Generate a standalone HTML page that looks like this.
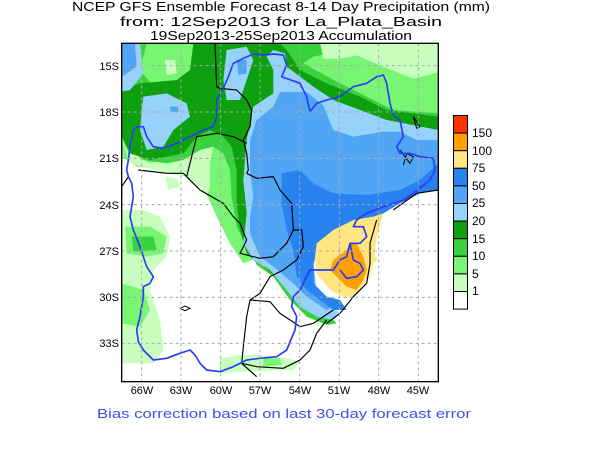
<!DOCTYPE html>
<html><head><meta charset="utf-8"><style>html,body{margin:0;padding:0;background:#fff}svg{display:block}</style></head><body>
<svg width="600" height="450" viewBox="0 0 600 450" xmlns="http://www.w3.org/2000/svg" font-family="Liberation Sans, sans-serif">
<rect width="600" height="450" fill="#fff"/>
<g font-size="13" fill="#000" text-anchor="middle">
<text x="281" y="11" textLength="418" lengthAdjust="spacingAndGlyphs">NCEP GFS Ensemble Forecast 8-14 Day Precipitation (mm)</text>
<text x="281" y="26" textLength="322" lengthAdjust="spacingAndGlyphs">from: 12Sep2013   for La_Plata_Basin</text>
<text x="281" y="40" textLength="262" lengthAdjust="spacingAndGlyphs">19Sep2013-25Sep2013 Accumulation</text>
</g>
<defs><clipPath id="c"><rect x="65" y="40" width="950" height="1015"/></clipPath></defs>
<g transform="translate(100,30) scale(0.33333)">
<g clip-path="url(#c)">
<rect x="0" y="0" width="1100" height="1100" fill="#fff"/>
<polygon fill="#78f573" points="65,40 1015,40 1015,480 430,700 390,640 350,560 310,470 280,440 200,420 110,410 65,380"/>
<polygon fill="#c8ffbe" points="65,330 90,400 200,430 260,440 300,470 320,500 330,470 330,400 340,350 300,340 250,370 150,400 80,360"/>
<polygon fill="#c8ffbe" points="65,540 130,540 180,560 210,620 200,680 160,720 150,780 180,870 190,960 160,1000 110,1000 65,1000"/>
<polygon fill="#78f573" points="75,590 150,590 200,620 190,670 140,680 80,670"/>
<polygon fill="#37d23c" points="95,620 160,620 170,660 100,665"/>
<polygon fill="#78f573" points="65,760 130,780 150,840 120,890 65,880"/>
<polygon fill="#c8ffbe" points="360,985 420,975 480,975 560,985 600,995 580,1020 430,1025 360,1030"/>
<polygon fill="#78f573" points="490,985 540,985 545,1005 490,1010"/>
<polygon fill="#c8ffbe" points="195,440 230,445 240,470 205,480"/>
<polygon fill="#37d23c" points="65,40 700,40 690,70 640,80 610,100 720,160 800,200 880,240 1015,250 1015,320 900,320 700,300 470,690 440,650 410,590 395,500 390,420 370,370 340,350 300,360 250,390 200,400 130,390 80,340 65,300"/>
<polygon fill="#78f573" points="140,40 290,40 300,110 250,160 160,170 120,120"/>
<polygon fill="#c8ffbe" points="195,90 225,90 230,130 200,135"/>
<polygon fill="#78f573" points="670,36 1020,36 1020,226 870,186 770,136 680,96"/>
<polygon fill="#c8ffbe" points="660,36 1020,36 1020,126 940,146 840,106 770,76 720,86 670,86"/>
<polygon fill="#0fa00f" points="65,180 120,160 230,150 270,120 280,40 540,40 560,60 600,120 680,160 780,200 860,240 1015,260 1015,310 860,290 700,220 560,200 500,210 450,300 445,400 445,500 440,560 465,640 490,690 470,700 440,670 420,600 410,520 410,420 395,350 370,320 330,300 290,320 250,370 150,390 90,370 65,320"/>
<polygon fill="#37d23c" points="460,680 540,720 600,800 690,860 710,880 680,885 620,860 570,810 520,740 470,705"/>
<polygon fill="#0fa00f" points="470,690 550,730 610,800 690,850 700,865 660,860 600,820 550,760"/>
<polygon fill="#96d2fa" points="65,40 120,40 130,130 90,180 65,185"/>
<polygon fill="#50a5f5" points="65,40 105,40 110,110 65,140"/>
<polygon fill="#96d2fa" points="130,200 200,190 260,220 270,260 220,300 190,350 140,360 120,300 125,240"/>
<polygon fill="#50a5f5" points="210,230 235,230 235,245 212,245"/>
<polygon fill="#96d2fa" points="380,60 440,50 460,90 440,150 420,210 380,210 370,150"/>
<polygon fill="#50a5f5" points="410,90 440,90 440,130 415,135"/>
<polygon fill="#96d2fa" points="440,330 460,230 520,190 520,120 500,80 520,60 555,70 560,110 600,140 640,170 700,210 780,240 860,270 1015,300 1015,480 870,540 820,590 760,620 700,640 650,660 640,720 650,800 720,850 700,870 650,860 600,830 560,780 510,720 460,690 430,640 440,550 430,450"/>
<polygon fill="#50a5f5" points="450,330 470,270 520,230 540,186 620,186 670,226 700,300 760,320 850,305 900,305 950,330 1015,330 1015,470 870,530 820,580 760,590 700,620 650,640 640,700 650,790 700,830 680,840 620,800 580,760 520,710 480,680 450,610 450,560 460,500 450,420"/>
<polygon fill="#2882f0" points="545,430 600,420 640,460 700,490 800,495 900,480 960,450 1015,400 1015,480 870,540 830,570 760,580 700,620 660,640 640,700 640,760 680,800 720,810 740,840 700,840 660,810 620,780 590,740 580,660 560,600 545,520"/>
<polygon fill="#fff" points="850,550 900,520 960,490 1015,480 1015,1055 700,1055 720,880 750,830 780,800 810,740 830,690 830,600"/>
<polygon fill="#ffe680" points="650,640 700,600 760,570 820,560 850,550 840,590 830,620 820,700 810,740 760,800 730,800 690,780 650,730 645,680"/>
<polygon fill="#ffe680" points="815,680 830,680 830,695 815,695"/>
<polygon fill="#ffa000" points="700,690 740,660 750,640 770,640 790,680 800,720 790,750 770,780 740,770 710,740 690,720"/>
<polyline fill="none" stroke="#000" stroke-width="3.5" points="345,40 350,170 360,175 410,180 440,210 455,240 450,290 430,330 440,370 445,420 440,430"/>
<polyline fill="none" stroke="#000" stroke-width="3.5" points="115,420 200,430 250,430 260,440 300,480 370,520 400,560 420,580 440,630 420,670 480,685 520,680 540,660 560,640 580,600 575,520 540,480 520,440 470,445 440,430"/>
<polyline fill="none" stroke="#000" stroke-width="3.5" points="260,440 290,320 350,310 400,320 440,340"/>
<polyline fill="none" stroke="#000" stroke-width="3.5" points="580,600 605,600 610,650 590,690 550,720 510,740 480,790 450,810 440,860 430,950 425,1000 470,1040"/>
<polyline fill="none" stroke="#000" stroke-width="3.5" points="450,810 510,815 540,850 570,870 600,890 640,880 670,860 700,840"/>
<polyline fill="none" stroke="#000" stroke-width="3.5" points="680,870 650,910 630,960 600,990 550,1015 470,1010 425,1000"/>
<polyline fill="none" stroke="#000" stroke-width="3.5" points="880,540 950,490 1015,480"/>
<polyline fill="none" stroke="#000" stroke-width="3.5" points="830,570 810,640 810,700 800,760 760,800 720,850 680,880"/>
<polyline fill="none" stroke="#000" stroke-width="3.5" points="85,440 65,470 65,500"/>
<polyline fill="none" stroke="#000" stroke-width="3" points="240,835 255,828 270,835 255,842 240,835"/>
<polyline fill="none" stroke="#000" stroke-width="3" points="940,260 950,295 960,290 940,260"/>
<polyline fill="none" stroke="#000" stroke-width="3" points="900,360 930,400 940,380 920,370 910,405"/>
<polyline fill="none" stroke="#2a3cf5" stroke-width="5" stroke-linejoin="round" points="460,72 490,75 520,72 550,75 560,105 545,140 600,160 620,200 630,245 650,220 680,210 720,200 760,170 800,160 830,140 850,135 860,160 870,220 880,255 900,270 910,320 890,350 900,370 930,370 960,380 1000,385 1005,420 990,450 940,490 910,510 880,520 850,530 800,550 770,570 760,590 790,590 800,620 780,640 750,640 740,680 720,690 700,720 660,720 630,720 620,740 600,780 580,800 575,830 590,860 585,900 560,960 530,980 480,985 440,990 420,1000 400,1010 360,1025 320,1020 300,1000 285,975 270,960 240,970 200,985 160,990 130,960 115,935 110,900 120,860 130,800 130,770 150,760 160,740 140,710 120,650 100,600 90,560 100,500 95,460 85,440 80,420 85,390 90,350 100,300 110,290 130,290 140,320 160,350 190,355 230,340 270,320 310,300 340,290 350,260 350,210 370,175 385,140 400,100 430,85 460,72"/>
<polyline fill="none" stroke="#2a3cf5" stroke-width="5" points="720,720 740,745 770,740 790,720 780,700 760,690 750,640"/>
<g stroke="#aaa" stroke-width="3" stroke-dasharray="9,9">
<line x1="125" y1="40" x2="125" y2="1055"/><line x1="243" y1="40" x2="243" y2="1055"/><line x1="362" y1="40" x2="362" y2="1055"/><line x1="480" y1="40" x2="480" y2="1055"/><line x1="599" y1="40" x2="599" y2="1055"/><line x1="718" y1="40" x2="718" y2="1055"/><line x1="836" y1="40" x2="836" y2="1055"/><line x1="955" y1="40" x2="955" y2="1055"/>
<line x1="65" y1="107" x2="1015" y2="107"/><line x1="65" y1="246" x2="1015" y2="246"/><line x1="65" y1="385" x2="1015" y2="385"/><line x1="65" y1="524" x2="1015" y2="524"/><line x1="65" y1="663" x2="1015" y2="663"/><line x1="65" y1="802" x2="1015" y2="802"/><line x1="65" y1="940" x2="1015" y2="940"/>
</g>
</g>
<rect x="65" y="40" width="950" height="1015" fill="none" stroke="#000" stroke-width="4"/>
</g>
<g font-size="11" fill="#000" text-anchor="end">
<text x="119" y="70">15S</text><text x="119" y="116">18S</text><text x="119" y="162">21S</text><text x="119" y="209">24S</text><text x="119" y="255">27S</text><text x="119" y="301">30S</text><text x="119" y="347">33S</text>
</g>
<g font-size="11" fill="#000" text-anchor="middle">
<text x="142" y="394">66W</text><text x="181" y="394">63W</text><text x="221" y="394">60W</text><text x="260" y="394">57W</text><text x="300" y="394">54W</text><text x="339" y="394">51W</text><text x="379" y="394">48W</text><text x="418" y="394">45W</text>
</g>
<g stroke="#000" stroke-width="1">
<rect x="453.5" y="115.5" width="14" height="17.6" fill="#ff3300"/>
<rect x="453.5" y="133.1" width="14" height="17.6" fill="#ffa000"/>
<rect x="453.5" y="150.7" width="14" height="17.6" fill="#ffe680"/>
<rect x="453.5" y="168.3" width="14" height="17.6" fill="#2882f0"/>
<rect x="453.5" y="185.9" width="14" height="17.6" fill="#50a5f5"/>
<rect x="453.5" y="203.5" width="14" height="17.6" fill="#96d2fa"/>
<rect x="453.5" y="221.1" width="14" height="17.6" fill="#0fa00f"/>
<rect x="453.5" y="238.7" width="14" height="17.6" fill="#37d23c"/>
<rect x="453.5" y="256.3" width="14" height="17.6" fill="#78f573"/>
<rect x="453.5" y="273.9" width="14" height="17.6" fill="#c8ffbe"/>
<rect x="453.5" y="291.5" width="14" height="17.6" fill="#ffffff"/>
</g>
<g font-size="12" fill="#000">
<text x="472" y="137">150</text><text x="472" y="155">100</text><text x="472" y="172">75</text><text x="472" y="190">50</text><text x="472" y="207">25</text><text x="472" y="225">20</text><text x="472" y="243">15</text><text x="472" y="260">10</text><text x="472" y="278">5</text><text x="472" y="295">1</text>
</g>
<text x="284" y="418" font-size="13" fill="#3c50f0" text-anchor="middle" textLength="374" lengthAdjust="spacingAndGlyphs">Bias correction based on last 30-day forecast error</text>
</svg>
</body></html>
